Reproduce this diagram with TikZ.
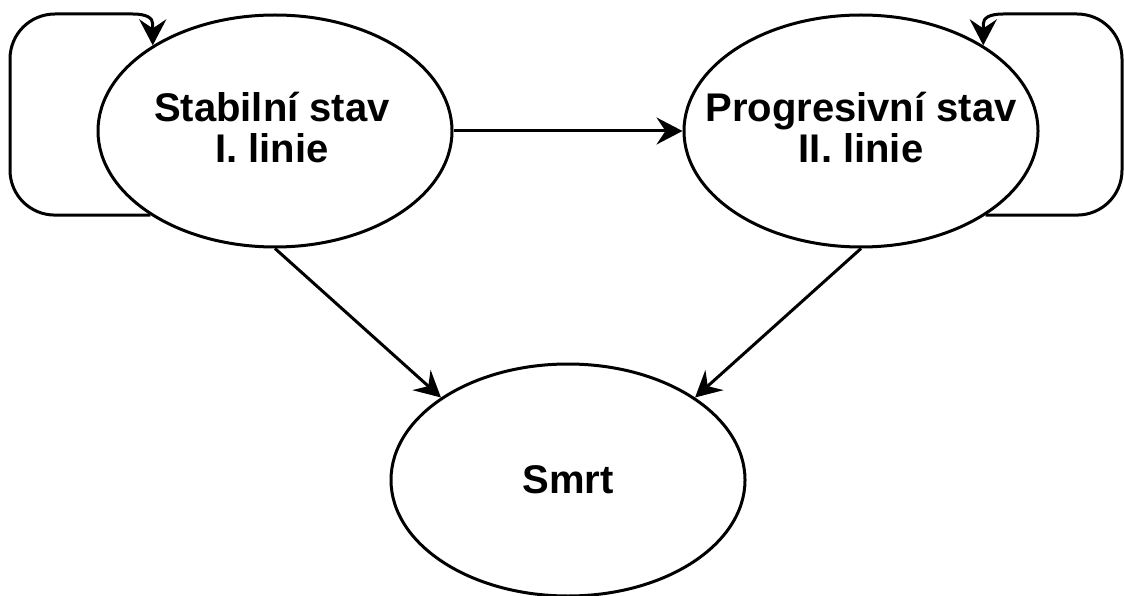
\documentclass[tikz,border=0pt]{standalone}
\usepackage{fontspec}
\setmainfont{Liberation Sans}
\usetikzlibrary{shapes.geometric,arrows.meta,calc}
\begin{document}
\begin{tikzpicture}[x=1pt,y=-1pt,
  state/.style={ellipse,draw=black,line width=3pt,minimum width=354pt,minimum height=232pt,inner sep=0pt},
  statetext/.style={align=center,inner sep=0pt,font=\fontsize{40}{41}\selectfont\bfseries},
  arr/.style={draw=black,line width=3pt,line join=round,-{Stealth[length=26pt,width=27pt,inset=9pt]}}]
\useasboundingbox (0,0) rectangle (1124,596);
\node[state] (A) at (275,131) {};
\node[state] (B) at (861,131) {};
\node[state] (C) at (568,480) {};
\node[statetext] (At) at (272,128) {Stabilní stav\\I. linie};
\node[statetext] (Bt) at (861,128) {Progresivní stav\\II. linie};
\node[statetext] (Ct) at (568,480) {Smrt};
\coordinate (LT) at (10,14);
\coordinate (RT) at (1122,14);
\coordinate (LB) at (A.214 -| LT);
\coordinate (RB) at (B.326 -| RT);
\coordinate (LK) at (A.145 |- LT);
\coordinate (RK) at (B.35 |- RT);
\draw[arr] (A.214) -- ($(LB)+(45,0)$) .. controls ($(LB)+(20,0)$) and ($(LB)+(0,-20)$) .. ($(LB)+(0,-45)$)
  -- ($(LT)+(0,45)$) .. controls ($(LT)+(0,20)$) and ($(LT)+(20,0)$) .. ($(LT)+(45,0)$)
  -- ($(LK)+(-20,0)$) .. controls ($(LK)+(-6,0)$) and ($(LK)+(0,4)$) .. ($(LK)+(0,10)$) -- (A.145);
\draw[arr] (B.326) -- ($(RB)+(-45,0)$) .. controls ($(RB)+(-20,0)$) and ($(RB)+(0,-20)$) .. ($(RB)+(0,-45)$)
  -- ($(RT)+(0,45)$) .. controls ($(RT)+(0,20)$) and ($(RT)+(-20,0)$) .. ($(RT)+(-45,0)$)
  -- ($(RK)+(20,0)$) .. controls ($(RK)+(6,0)$) and ($(RK)+(0,4)$) .. ($(RK)+(0,10)$) -- (B.35);
\draw[arr] (A.east) -- (B.west);
\draw[arr] (A.south) -- (C.147);
\draw[arr] (B.south) -- (C.33);
\end{tikzpicture}
\end{document}
